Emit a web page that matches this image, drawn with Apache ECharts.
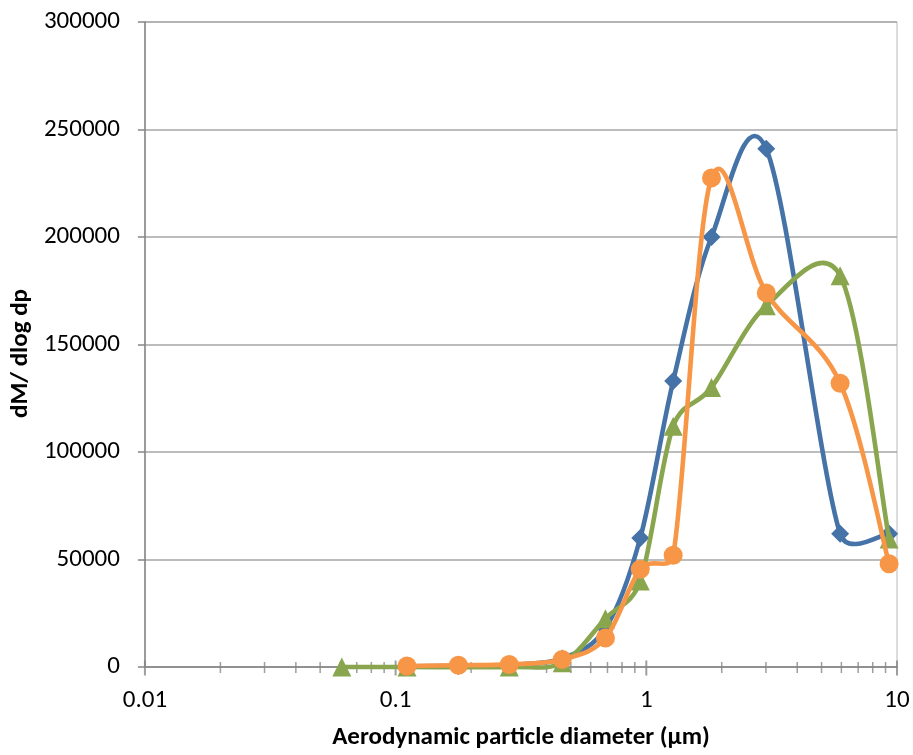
<!DOCTYPE html>
<html>
<head>
<meta charset="utf-8">
<script src="https://cdn.jsdelivr.net/npm/echarts@6/dist/echarts.min.js"></script>
<style>
html,body{margin:0;padding:0;background:#fff;}
#chart{width:913px;height:755px;}
</style>
</head>
<body>
<div id="chart"></div>
<script>
// Series data: [diameter (µm), dM/dlog dp]
var blueData = [[0.111,300],[0.178,500],[0.284,1000],[0.462,4000],[0.687,18000],[0.946,60000],[1.28,133000],[1.82,200000],[3.01,241000],[5.93,62000],[9.3,62000]];
var greenData = [[0.061,0],[0.111,0],[0.284,0],[0.462,2000],[0.687,22500],[0.946,40000],[1.28,112000],[1.82,130000],[3.01,168000],[5.93,182000],[9.3,59500]];
var orangeData = [[0.111,500],[0.178,800],[0.284,1200],[0.462,3500],[0.687,13500],[0.946,45500],[1.28,52000],[1.82,227500],[3.01,174000],[5.93,132000],[9.3,48000]];
// Axis ticks
var majorTicks = [0.01,0.1,1,10];
var minorTicks = [0.02,0.03,0.04,0.05,0.06,0.07,0.08,0.09,0.2,0.3,0.4,0.5,0.6,0.7,0.8,0.9,2,3,4,5,6,7,8,9];

var FONT = 'Carlito, Lato, "Open Sans", sans-serif';
var LINE_W = 4.6;

// Smoothed line (Excel-style spline, tangent arms capped at half the segment) via the axes' coordinate system
function curve(data, color, z){
  return {
    type:'custom', silent:true, z:z, data:data, encode:{x:0,y:1},
    renderItem:function(params, api){
      var i = params.dataIndex, n = data.length;
      if (i >= n-1) return null;
      var p = function(k){ k = Math.max(0, Math.min(n-1, k)); return api.coord(data[k]); };
      var p0 = p(i-1), p1 = p(i), p2 = p(i+1), p3 = p(i+2);
      var seg = Math.hypot(p2[0]-p1[0], p2[1]-p1[1]);
      function arm(a, b){
        var dx = (b[0]-a[0])/6, dy = (b[1]-a[1])/6;
        var len = Math.hypot(dx, dy);
        if (len > seg/2 && len > 0){ var s = (seg/2)/len; dx *= s; dy *= s; }
        return [dx, dy];
      }
      var a1 = arm(p0, p2), a2 = arm(p1, p3);
      return {
        type:'bezierCurve',
        shape:{x1:p1[0],y1:p1[1],x2:p2[0],y2:p2[1],
          cpx1:p1[0]+a1[0], cpy1:p1[1]+a1[1],
          cpx2:p2[0]-a2[0], cpy2:p2[1]-a2[1]},
        style:{stroke:color, fill:'none', lineWidth:LINE_W, lineCap:'round'}
      };
    }
  };
}
function markers(data, color, symbol, size, z){
  return {type:'scatter', silent:true, z:z, data:data, symbol:symbol, symbolSize:size,
    itemStyle:{color:color, opacity:1}};
}

var chart = echarts.init(document.getElementById('chart'), null, {renderer:'canvas'});
chart.setOption({
  animation:false,
  backgroundColor:'#ffffff',
  grid:{left:144,right:16,top:22,bottom:85,show:true,borderColor:'#b8b8b8',borderWidth:1,backgroundColor:'transparent'},
  xAxis:{
    type:'log', logBase:10, min:0.01, max:10,
    name:'Aerodynamic particle diameter (µm)', nameLocation:'middle', nameGap:58,
    nameTextStyle:{fontFamily:FONT,fontSize:25,fontWeight:'bold',color:'#000'},
    axisLine:{show:true,lineStyle:{color:'#868686',width:1.5}},
    axisTick:{show:false},
    splitLine:{show:false},
    minorTick:{show:false},
    axisLabel:{fontFamily:FONT,fontSize:25,color:'#000',margin:21,
      formatter:function(v){return String(v);}}
  },
  yAxis:{
    type:'value', min:0, max:300000, interval:50000,
    name:'dM/ dlog dp', nameLocation:'middle', nameGap:108,
    nameTextStyle:{fontFamily:FONT,fontSize:25,fontWeight:'bold',color:'#000',padding:[0,18,0,0]},
    axisLine:{show:true,lineStyle:{color:'#868686',width:1.5}},
    axisTick:{show:true,length:7,lineStyle:{color:'#868686',width:1.5}},
    splitLine:{show:true,lineStyle:{color:'#a6a6a6',width:1.5}},
    axisLabel:{fontFamily:FONT,fontSize:25,color:'#000',margin:25,
      formatter:function(v){return String(v);}}
  },
  series:[
    {type:'scatter',silent:true,clip:false,z:1,data:minorTicks.map(function(v){return [v,0];}),
      symbol:'rect',symbolSize:[1.5,11],symbolOffset:[0,0.5],itemStyle:{color:'#868686'}},
    {type:'scatter',silent:true,clip:false,z:1,data:majorTicks.map(function(v){return [v,0];}),
      symbol:'rect',symbolSize:[2,15],symbolOffset:[0,1],itemStyle:{color:'#868686'}},
    curve(blueData,'#4572A7',2),
    markers(blueData,'#4572A7','diamond',18,3),
    curve(greenData,'#89A54E',4),
    markers(greenData,'#89A54E','triangle',19,5),
    curve(orangeData,'#F79646',6),
    markers(orangeData,'#F79646','circle',19,7)
  ]
});
</script>
</body>
</html>
